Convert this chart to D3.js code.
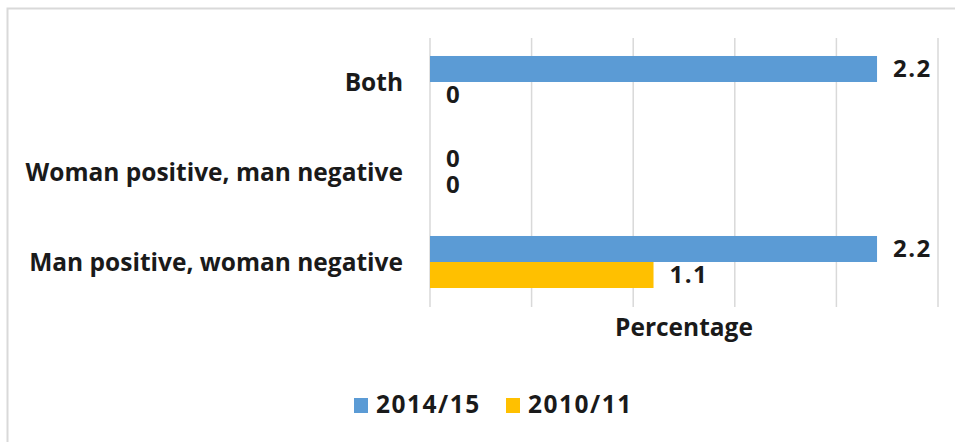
<!DOCTYPE html>
<html>
<head>
<meta charset="utf-8">
<script src="https://cdn.jsdelivr.net/npm/d3@7"></script>
<style>
  body { margin: 0; background: #fff; }
  text { font-family: "Open Sans", Lato, sans-serif; font-weight: 700; fill: #1a1a1a; }
  .num { letter-spacing: 1.5px; }
</style>
</head>
<body>
<svg id="chart"></svg>
<script>
// data
var categories = ["Both", "Woman positive, man negative", "Man positive, woman negative"];
var seriesNames = ["2014/15", "2010/11"];
var values2014 = [2.2, 0, 2.2];
var values2010 = [0, 0, 1.1];
var xTicks = [0, 0.5, 1, 1.5, 2, 2.5];
var colors = ["#5b9bd5", "#ffc000"];

var width = 955, height = 442;
var fontSize = 24.5;
var svg = d3.select("#chart").attr("width", width).attr("height", height);

// outer frame
svg.append("path")
    .attr("d", "M7.5,442 V8.5 H955")
    .attr("fill", "none")
    .attr("stroke", "#d9d9d9")
    .attr("stroke-width", 2);

var plot = { left: 430, right: 938, top: 37, bottom: 307 };

var x = d3.scaleLinear().domain([0, 2.5]).range([plot.left, plot.right]);
var y = d3.scaleBand().domain(categories).range([plot.top, plot.bottom])
          .paddingInner(0.422).paddingOuter(0.211);
var ySub = d3.scaleBand().domain(seriesNames).range([0, y.bandwidth()]);

// gridlines
svg.append("g")
  .selectAll("line")
  .data(xTicks)
  .enter().append("line")
    .attr("x1", d => x(d)).attr("x2", d => x(d))
    .attr("y1", plot.top + 1).attr("y2", plot.bottom)
    .attr("stroke", "#d9d9d9")
    .attr("stroke-width", 1.5);

// category labels
svg.append("g")
  .selectAll("text")
  .data(categories)
  .enter().append("text")
    .attr("x", 403)
    .attr("y", d => y(d) + y.bandwidth() / 2)
    .attr("dy", "0.35em")
    .attr("text-anchor", "end")
    .attr("font-size", fontSize)
    .text(d => d);

var rows = [];
categories.forEach((c, i) => {
  rows.push({ cat: c, series: seriesNames[0], value: values2014[i], color: colors[0] });
  rows.push({ cat: c, series: seriesNames[1], value: values2010[i], color: colors[1] });
});

// bars
svg.append("g")
  .selectAll("rect")
  .data(rows)
  .enter().append("rect")
    .attr("x", x(0))
    .attr("y", d => y(d.cat) + ySub(d.series))
    .attr("width", d => x(d.value) - x(0))
    .attr("height", ySub.bandwidth())
    .attr("fill", d => d.color);

// data labels
svg.append("g")
  .selectAll("text")
  .data(rows)
  .enter().append("text")
    .classed("num", true)
    .attr("x", d => x(d.value) + 16)
    .attr("y", d => y(d.cat) + ySub(d.series) + ySub.bandwidth() / 2)
    .attr("dy", "0.35em")
    .attr("font-size", 24)
    .text(d => d.value);

// axis title
svg.append("text")
    .attr("x", (plot.left + plot.right) / 2)
    .attr("y", 336)
    .attr("text-anchor", "middle")
    .attr("font-size", fontSize)
    .text("Percentage");

// legend
var legend = svg.append("g");
var legendX = [354, 506];
seriesNames.forEach((s, i) => {
  legend.append("rect")
      .attr("x", legendX[i]).attr("y", 398)
      .attr("width", 14).attr("height", 15)
      .attr("fill", colors[i]);
  legend.append("text")
      .classed("num", true)
      .attr("x", legendX[i] + 22).attr("y", 413)
      .attr("font-size", fontSize)
      .text(s);
});
</script>
</body>
</html>
